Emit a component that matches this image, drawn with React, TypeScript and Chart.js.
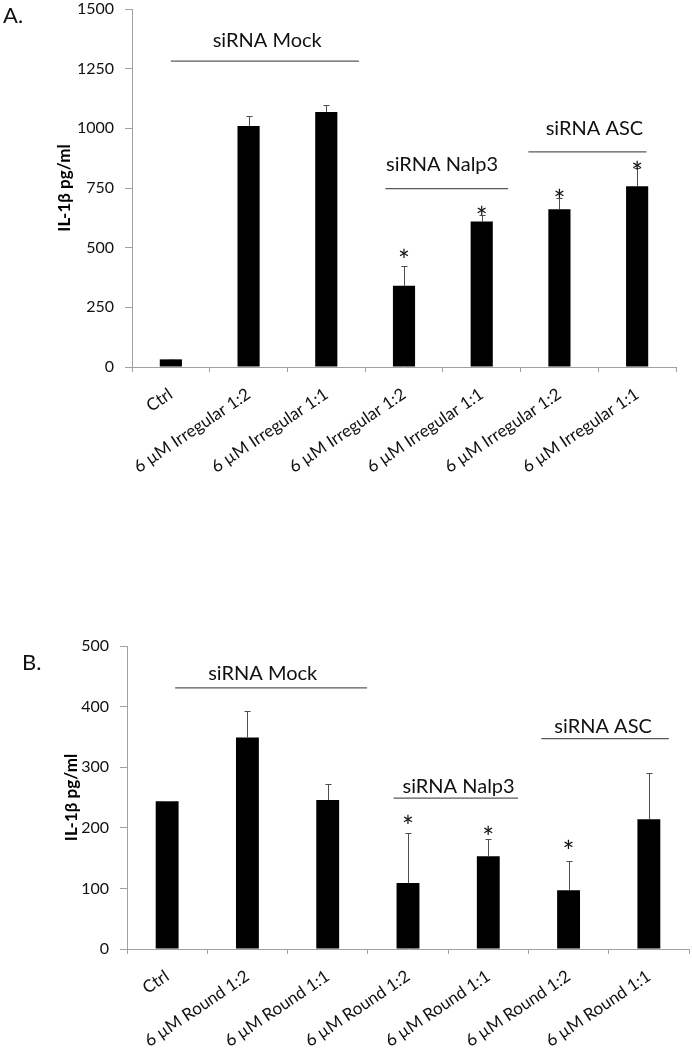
import React, { useEffect, useRef } from "react";
import { Chart, registerables } from "chart.js";
Chart.register(...registerables);

// ---------- Panel A data ----------
const categoriesA = [
  "Ctrl",
  "6 µM Irregular 1:2",
  "6 µM Irregular 1:1",
  "6 µM Irregular 1:2",
  "6 µM Irregular 1:1",
  "6 µM Irregular 1:2",
  "6 µM Irregular 1:1",
];
const valuesA = [32, 1010, 1068, 340, 610, 661, 757];
const errorsA = [2, 42, 28, 84, 27, 46, 75];
const starsA = [null, null, null, 478, 658, 729, 846];
const yTicksA = [0, 250, 500, 750, 1000, 1250, 1500];

// ---------- Panel B data ----------
const categoriesB = [
  "Ctrl",
  "6 µM Round 1:2",
  "6 µM Round 1:1",
  "6 µM Round 1:2",
  "6 µM Round 1:1",
  "6 µM Round 1:2",
  "6 µM Round 1:1",
];
const valuesB = [244, 349, 246, 109, 153, 97, 214];
const errorsB = [1, 43, 26, 83, 28, 49, 76];
const starsB = [null, null, null, 214, 196, 174, null];
const yTicksB = [0, 100, 200, 300, 400, 500];

// ---------- group annotations ----------
const groupNames = ["siRNA Mock", "siRNA Nalp3", "siRNA ASC"];
const groupFromA = [0.0, 2.76, 4.6];
const groupToA = [2.42, 4.34, 6.12];
const groupLineA = [1282, 747, 901];
const groupTextXA = [1.24, 3.49, 5.45];
const groupTextYA = [1370, 846, 1001];

const groupFromB = [0.1, 2.82, 4.66];
const groupToB = [2.49, 4.37, 6.25];
const groupLineB = [431, 249, 347];
const groupTextXB = [1.19, 3.63, 5.43];
const groupTextYB = [455, 267, 368];

const yTitle = "IL-1β pg/ml";
const FONT = "Lato, 'Open Sans', sans-serif";

type PanelCfg = {
  letter: string;
  letterX: number;
  letterY: number;
  width: number;
  height: number;
  axisLeft: number;
  chartTop: number;
  chartBottom: number;
  chartRight: number;
  titleCenterX: number;
  categories: string[];
  values: number[];
  errors: number[];
  stars: (number | null)[];
  yTicks: number[];
  groupFrom: number[];
  groupTo: number[];
  groupLine: number[];
  groupTextX: number[];
  groupTextY: number[];
};

function centeredText(ctx: CanvasRenderingContext2D, text: string, x: number, cy: number, align: CanvasTextAlign) {
  ctx.textAlign = align;
  ctx.textBaseline = "alphabetic";
  const m = ctx.measureText(text);
  const y = cy + (m.actualBoundingBoxAscent - m.actualBoundingBoxDescent) / 2;
  ctx.fillText(text, x, y);
}

function Panel({ cfg }: { cfg: PanelCfg }) {
  const ref = useRef<HTMLCanvasElement | null>(null);
  useEffect(() => {
    if (!ref.current) return;
    const extras = {
      id: "extras",
      afterDatasetsDraw(chart: any) {
        const ctx: CanvasRenderingContext2D = chart.ctx;
        const xs = chart.scales.x;
        const ys = chart.scales.y;
        ctx.save();
        // error bars (upper only)
        ctx.strokeStyle = "#4d4d4d";
        ctx.lineWidth = 1;
        cfg.values.forEach((v, i) => {
          const px = Math.round(xs.getPixelForValue(i)) + 0.5;
          const base = ys.getPixelForValue(v);
          const top = Math.round(ys.getPixelForValue(v + cfg.errors[i])) + 0.5;
          ctx.beginPath();
          ctx.moveTo(px, base);
          ctx.lineTo(px, top);
          ctx.moveTo(px - 3, top);
          ctx.lineTo(px + 3, top);
          ctx.stroke();
        });
        // asterisks
        ctx.fillStyle = "#111";
        ctx.font = `28px ${FONT}`;
        cfg.stars.forEach((s, i) => {
          if (s === null) return;
          centeredText(ctx, "*", xs.getPixelForValue(i), ys.getPixelForValue(s), "center");
        });
        // group lines and labels
        ctx.strokeStyle = "#5a5a5a";
        ctx.lineWidth = 1.3;
        ctx.font = `20px ${FONT}`;
        groupNames.forEach((name, g) => {
          const yLine = ys.getPixelForValue(cfg.groupLine[g]);
          ctx.beginPath();
          ctx.moveTo(xs.getPixelForValue(cfg.groupFrom[g]), yLine);
          ctx.lineTo(xs.getPixelForValue(cfg.groupTo[g]), yLine);
          ctx.stroke();
          centeredText(ctx, name, xs.getPixelForValue(cfg.groupTextX[g]), ys.getPixelForValue(cfg.groupTextY[g]), "center");
        });
        // panel letter
        ctx.font = `22px ${FONT}`;
        centeredText(ctx, cfg.letter, cfg.letterX, cfg.letterY, "left");
        ctx.restore();
      },
    };

    const chart = new Chart(ref.current, {
      type: "bar",
      data: {
        labels: cfg.categories,
        datasets: [
          {
            data: cfg.values,
            backgroundColor: "#000000",
            borderWidth: 0,
            categoryPercentage: 1,
            barPercentage: 0.285,
          },
        ],
      },
      options: {
        responsive: false,
        animation: false,
        events: [],
        layout: {
          padding: {
            left: 0,
            top: cfg.chartTop,
            right: cfg.width - cfg.chartRight,
            bottom: 0,
          },
        },
        plugins: {
          legend: { display: false },
          tooltip: { enabled: false },
          title: { display: false },
        },
        scales: {
          x: {
            type: "category",
            grid: {
              offset: true,
              drawOnChartArea: false,
              drawTicks: true,
              tickLength: 5,
              color: "#a0a0a0",
            },
            border: { color: "#a0a0a0", width: 1 },
            ticks: {
              minRotation: 34,
              maxRotation: 34,
              autoSkip: false,
              padding: 12,
              color: "#111",
              font: { family: FONT, size: 17 },
            },
            afterFit: (scale: any) => {
              scale.height = cfg.height - cfg.chartBottom;
              scale.paddingLeft = 0;
              scale.paddingRight = 0;
            },
          },
          y: {
            type: "linear",
            min: cfg.yTicks[0],
            max: cfg.yTicks[cfg.yTicks.length - 1],
            afterBuildTicks: (scale: any) => {
              scale.ticks = cfg.yTicks.map((v) => ({ value: v }));
            },
            grid: {
              drawOnChartArea: false,
              drawTicks: true,
              tickLength: 7,
              color: "#a0a0a0",
            },
            border: { color: "#a0a0a0", width: 1 },
            ticks: {
              padding: 11,
              color: "#111",
              font: { family: FONT, size: 16 },
              callback: (v: any) => String(v),
            },
            title: {
              display: true,
              text: yTitle,
              color: "#000",
              font: { family: FONT, size: 17, weight: "bold" },
              padding: { top: cfg.titleCenterX - 10, bottom: cfg.titleCenterX - 10 },
            },
            afterFit: (scale: any) => {
              scale.width = cfg.axisLeft;
              scale.paddingTop = 0;
              scale.paddingBottom = 0;
            },
          },
        },
      },
      plugins: [extras],
    } as any);
    return () => chart.destroy();
  }, [cfg]);
  return (
    <canvas
      ref={ref}
      width={cfg.width}
      height={cfg.height}
      style={{ display: "block", width: cfg.width, height: cfg.height }}
    />
  );
}

const panelA: PanelCfg = {
  letter: "A.",
  letterX: 3,
  letterY: 15,
  width: 692,
  height: 540,
  axisLeft: 132,
  chartTop: 9,
  chartBottom: 367,
  chartRight: 676,
  titleCenterX: 64,
  categories: categoriesA,
  values: valuesA,
  errors: errorsA,
  stars: starsA,
  yTicks: yTicksA,
  groupFrom: groupFromA,
  groupTo: groupToA,
  groupLine: groupLineA,
  groupTextX: groupTextXA,
  groupTextY: groupTextYA,
};

const panelB: PanelCfg = {
  letter: "B.",
  letterX: 22,
  letterY: 122,
  width: 692,
  height: 510,
  axisLeft: 127,
  chartTop: 106,
  chartBottom: 409,
  chartRight: 689,
  titleCenterX: 71,
  categories: categoriesB,
  values: valuesB,
  errors: errorsB,
  stars: starsB,
  yTicks: yTicksB,
  groupFrom: groupFromB,
  groupTo: groupToB,
  groupLine: groupLineB,
  groupTextX: groupTextXB,
  groupTextY: groupTextYB,
};

export default function App() {
  return (
    <div
      style={{
        position: "absolute",
        left: 0,
        top: 0,
        width: 692,
        height: 1050,
        background: "#fff",
        overflow: "hidden",
      }}
    >
      <Panel cfg={panelA} />
      <Panel cfg={panelB} />
    </div>
  );
}
